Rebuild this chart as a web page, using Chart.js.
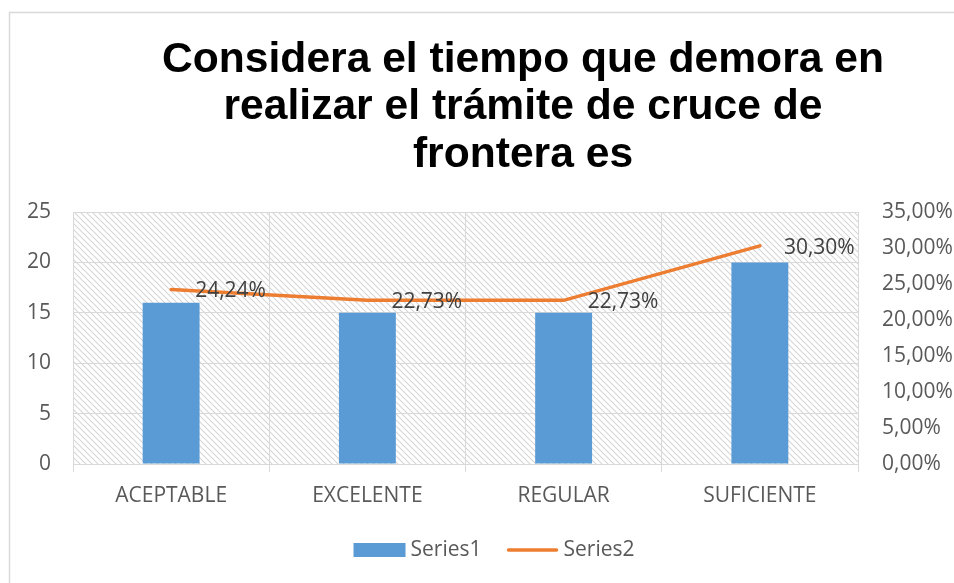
<!DOCTYPE html>
<html>
<head>
<meta charset="utf-8">
<script src="https://cdn.jsdelivr.net/npm/chart.js@4/dist/chart.umd.min.js"></script>
<style>
  html, body { margin: 0; padding: 0; background: #fff; }
  #wrap { width: 954px; height: 583px; position: relative; }
</style>
</head>
<body>
<div id="wrap"><canvas id="c" width="954" height="583"></canvas></div>
<script>
const categories = ["ACEPTABLE", "EXCELENTE", "REGULAR", "SUFICIENTE"];
const series1 = [16, 15, 15, 20];
const series2 = [24.24, 22.73, 22.73, 30.30];
const series2Labels = ["24,24%", "22,73%", "22,73%", "30,30%"];
const titleLines = ["Considera el tiempo que demora en", "realizar el trámite de cruce de", "frontera es"];
const leftTicks = [0, 5, 10, 15, 20, 25];
const rightTicks = [0, 5, 10, 15, 20, 25, 30, 35];

const FONT = "'Open Sans', sans-serif";
const TICK_COLOR = "#595959";
const GRID_COLOR = "#d9d9d9";

function makeHatch() {
  const s = 6;
  const c = document.createElement('canvas');
  c.width = s; c.height = s;
  const g = c.getContext('2d');
  g.fillStyle = '#ffffff';
  g.fillRect(0, 0, s, s);
  g.strokeStyle = '#d6d6d6';
  g.lineWidth = 1.1;
  g.beginPath();
  g.moveTo(-1, -1); g.lineTo(s + 1, s + 1);
  g.moveTo(-1, s - 1); g.lineTo(1, s + 1);
  g.moveTo(s - 1, -1); g.lineTo(s + 1, 1);
  g.stroke();
  return c;
}

const bgPlugin = {
  id: 'bg',
  beforeDraw(chart) {
    const ctx = chart.ctx;
    const a = chart.chartArea;
    ctx.save();
    ctx.fillStyle = '#fff';
    ctx.fillRect(0, 0, chart.width, chart.height);
    ctx.strokeStyle = '#d9d9d9';
    ctx.lineWidth = 1.5;
    ctx.strokeRect(9.5, 12.5, 2000, 2000);
    const pat = ctx.createPattern(makeHatch(), 'repeat');
    ctx.fillStyle = pat;
    ctx.fillRect(a.left, a.top, a.right - a.left, a.bottom - a.top);
    // title
    ctx.fillStyle = '#000';
    ctx.font = "bold 42.6px 'Liberation Sans', Arial, sans-serif";
    ctx.textAlign = 'center';
    ctx.textBaseline = 'alphabetic';
    const base = [72, 119, 167];
    titleLines.forEach((t, i) => ctx.fillText(t, 523, base[i]));
    ctx.restore();
  }
};

const labelPlugin = {
  id: 'labels',
  afterDatasetsDraw(chart) {
    const ctx = chart.ctx;
    const meta = chart.getDatasetMeta(1);
    ctx.save();
    ctx.font = "21px " + FONT;
    ctx.fillStyle = '#404040';
    ctx.textAlign = 'left';
    ctx.textBaseline = 'middle';
    meta.data.forEach((pt, i) => {
      ctx.fillText(series2Labels[i], pt.x + 24, pt.y + 2);
    });
    ctx.restore();
  }
};

const legendPlugin = {
  id: 'customLegend',
  afterDraw(chart) {
    const ctx = chart.ctx;
    const ds = chart.data.datasets;
    ctx.save();
    ctx.font = "21px " + FONT;
    ctx.textBaseline = 'middle';
    ctx.textAlign = 'left';
    const y = 550;
    const box = 52, gapText = 5, gapItem = 25;
    const w1 = ctx.measureText(ds[0].label).width;
    const w2 = ctx.measureText(ds[1].label).width;
    const total = box + gapText + w1 + gapItem + box + gapText + w2;
    let x = 494 - total / 2;
    ctx.fillStyle = ds[0].backgroundColor;
    ctx.fillRect(x, y - 7, box, 14);
    x += box + gapText;
    ctx.fillStyle = TICK_COLOR;
    ctx.fillText(ds[0].label, x, y);
    x += w1 + gapItem;
    ctx.strokeStyle = ds[1].borderColor;
    ctx.lineWidth = 3.5;
    ctx.lineCap = 'round';
    ctx.beginPath();
    ctx.moveTo(x + 2, y);
    ctx.lineTo(x + box - 2, y);
    ctx.stroke();
    x += box + gapText;
    ctx.fillStyle = TICK_COLOR;
    ctx.fillText(ds[1].label, x, y);
    ctx.restore();
  }
};

new Chart(document.getElementById('c'), {
  type: 'bar',
  data: {
    labels: categories,
    datasets: [
      {
        label: 'Series1',
        data: series1,
        backgroundColor: '#5B9BD5',
        yAxisID: 'y',
        categoryPercentage: 1,
        barPercentage: 0.29,
        order: 2
      },
      {
        label: 'Series2',
        type: 'line',
        data: series2,
        borderColor: '#ED7D31',
        backgroundColor: '#ED7D31',
        borderWidth: 3.5,
        borderCapStyle: 'round',
        pointRadius: 0,
        tension: 0,
        yAxisID: 'y2',
        order: 1
      }
    ]
  },
  options: {
    responsive: false,
    animation: false,
    devicePixelRatio: 1,
    layout: { padding: { top: 212, left: 0, right: 0, bottom: 59 } },
    plugins: {
      legend: { display: false },
      title: { display: false },
      tooltip: { enabled: false }
    },
    scales: {
      x: {
        offset: true,
        grid: { display: true, offset: true, color: GRID_COLOR, lineWidth: 1, tickLength: 8, tickColor: GRID_COLOR },
        border: { display: true, color: GRID_COLOR },
        ticks: { color: TICK_COLOR, font: { family: FONT, size: 21 }, padding: 11, maxRotation: 0 },
        afterFit(s) { s.height = 60; }
      },
      y: {
        position: 'left',
        min: 0, max: 25,
        afterBuildTicks(s) { s.ticks = leftTicks.map(v => ({ value: v })); },
        grid: { color: GRID_COLOR, drawTicks: false },
        border: { display: true, color: GRID_COLOR },
        ticks: { color: TICK_COLOR, font: { family: FONT, size: 21 }, padding: 22 },
        afterFit(s) { s.width = 73; }
      },
      y2: {
        position: 'right',
        min: 0, max: 35,
        afterBuildTicks(s) { s.ticks = rightTicks.map(v => ({ value: v })); },
        grid: { display: false, drawTicks: false },
        border: { display: true, color: GRID_COLOR },
        ticks: {
          color: TICK_COLOR, font: { family: FONT, size: 21 }, padding: 24,
          callback: v => v.toFixed(2).replace('.', ',') + '%'
        },
        afterFit(s) { s.width = 96; }
      }
    }
  },
  plugins: [bgPlugin, labelPlugin, legendPlugin]
});
</script>
</body>
</html>
